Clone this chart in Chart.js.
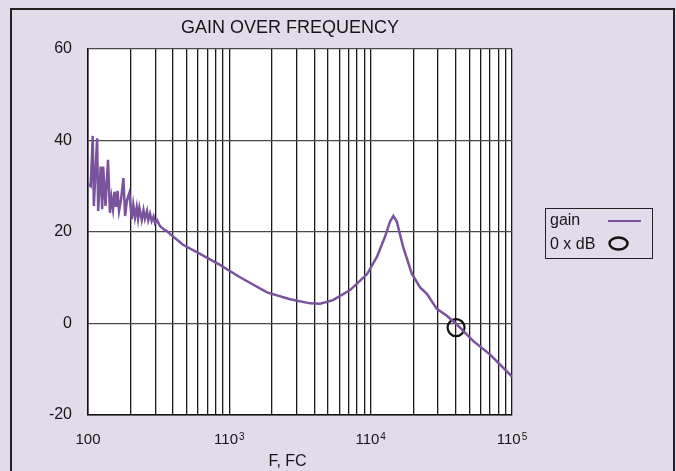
<!DOCTYPE html>
<html lang="en">
<head>
    <meta charset="UTF-8">
    <title>Gain over frequency</title>
    <script src="https://cdn.jsdelivr.net/npm/chart.js"></script>
    <style>
        body { margin: 0; background: #e2dcea; }
        canvas { display: block; }
    </style>
</head>
<body>
    <canvas id="grafico" width="676" height="471"></canvas>

<script>
    // frequencia (Hz) e ganho (dB)
    const freqHz = [
        100, 104.5, 108, 110, 116, 118, 123, 126, 128, 133, 138.5, 143, 146.6, 150.3, 154,
        157.8, 161.8, 165.8, 171.2, 178, 183, 188.8, 196, 204, 209, 215, 221, 226, 231,
        240, 247, 253, 261.5, 267, 274.7, 282, 290.8, 298, 307.8, 323, 336.7, 351, 365.3,
        380, 400, 470, 620, 859, 1190, 1848, 2690, 3726, 4385, 5420, 7150, 9430, 11090,
        12640, 13720, 14480, 15300, 16950, 19540, 22380, 24960, 29380, 34560, 40650,
        53060, 69980, 100000
    ];
    const gainDb = [
        30.5, 30, 41, 25.7, 40.5, 24.6, 34.3, 25, 34.3, 25.7, 35.8, 24.2, 27.5, 25, 28.8,
        25.5, 29, 24.6, 27, 31.8, 23.5, 27, 28.5, 22.8, 26, 23.2, 25.4, 22.9, 25.3,
        22.6, 24.8, 22.9, 24.6, 22.6, 24, 22.4, 23.4, 21.9, 22.6, 21.3, 20.8, 20.4, 20.1,
        19.6, 19.0, 17.2, 15.2, 12.8, 10.1, 6.8, 5.3, 4.4, 4.3, 5.1, 7.3, 10.8, 14.6,
        19.0, 22.3, 23.5, 22.3, 16.8, 10.9, 7.9, 6.5, 3.2, 1.7, -0.2,
        -3.8, -6.8, -11.6
    ];

    // ponto marcado (0 x dB)
    const zeroFreq = [40200];
    const zeroGain = [-0.9];

    // linhas verticais: 1..9 de cada decada
    const xGridValues = [
        100, 200, 300, 400, 500, 600, 700, 800, 900,
        1000, 2000, 3000, 4000, 5000, 6000, 7000, 8000, 9000,
        10000, 20000, 30000, 40000, 50000, 60000, 70000, 80000, 90000,
        100000
    ];
    // rotulos do eixo x (estilo "1·10^n")
    const xLabelValues = [100, 1000, 10000, 100000];
    const xLabelBase = ['100', '110', '110', '110'];
    const xLabelExp = ['', '3', '4', '5'];
    const yTicks = [-20, 0, 20, 40, 60];

    const titulo = 'GAIN OVER FREQUENCY';
    const tituloX = 'F, FC';
    const legendaNomes = ['gain', '0 x dB'];

    const corLinha = '#7a529e';
    const fonte = '"Liberation Sans", Arial, sans-serif';

    const fundo = {
        id: 'fundo',
        beforeDraw(chart) {
            const ctx = chart.ctx;
            const a = chart.chartArea;
            ctx.save();
            ctx.fillStyle = '#e2dcea';
            ctx.fillRect(0, 0, chart.width, chart.height);
            ctx.strokeStyle = '#222';
            ctx.lineWidth = 2;
            ctx.strokeRect(11, 9, 663, 480);
            ctx.fillStyle = '#fff';
            ctx.fillRect(a.left, a.top, a.right - a.left, a.bottom - a.top);
            ctx.restore();
        },
        afterDraw(chart) {
            const ctx = chart.ctx;
            const sx = chart.scales.x;
            ctx.save();
            ctx.fillStyle = '#151515';
            ctx.textBaseline = 'alphabetic';

            // rotulos do eixo x com expoente
            xLabelValues.forEach((v, i) => {
                const px = sx.getPixelForValue(v);
                ctx.font = '15px ' + fonte;
                const wb = ctx.measureText(xLabelBase[i]).width;
                ctx.font = '10px ' + fonte;
                const we = xLabelExp[i] ? ctx.measureText(xLabelExp[i]).width + 1 : 0;
                const x0 = px - (wb + we) / 2;
                ctx.textAlign = 'left';
                ctx.font = '15px ' + fonte;
                ctx.fillText(xLabelBase[i], x0, 444);
                if (xLabelExp[i]) {
                    ctx.font = '10px ' + fonte;
                    ctx.fillText(xLabelExp[i], x0 + wb + 1, 440);
                }
            });

            ctx.textAlign = 'center';
            ctx.font = '18px ' + fonte;
            ctx.fillText(titulo, 290, 33);
            ctx.font = '16px ' + fonte;
            ctx.fillText(tituloX, 287.5, 466);

            // legenda
            ctx.strokeStyle = '#222';
            ctx.lineWidth = 1;
            ctx.strokeRect(545.5, 208.5, 107, 50);
            ctx.textAlign = 'left';
            ctx.font = '16px ' + fonte;
            ctx.fillText(legendaNomes[0], 550, 225);
            ctx.fillText(legendaNomes[1], 550, 249);
            ctx.strokeStyle = corLinha;
            ctx.lineWidth = 2;
            ctx.beginPath();
            ctx.moveTo(608, 221);
            ctx.lineTo(641, 221);
            ctx.stroke();
            ctx.strokeStyle = '#111';
            ctx.lineWidth = 2.5;
            ctx.beginPath();
            ctx.ellipse(618.5, 243.5, 9, 6, 0, 0, Math.PI * 2);
            ctx.stroke();
            ctx.restore();
        }
    };

    const pontos = freqHz.map((f, i) => ({ x: f, y: gainDb[i] }));
    const pontoZero = zeroFreq.map((f, i) => ({ x: f, y: zeroGain[i] }));

    const config = {
        type: 'line',
        data: {
            datasets: [
                {
                    label: legendaNomes[0],
                    data: pontos,
                    borderColor: corLinha,
                    borderWidth: 2.5,
                    pointRadius: 0,
                    tension: 0
                },
                {
                    label: legendaNomes[1],
                    data: pontoZero,
                    showLine: false,
                    pointRadius: 8.5,
                    pointBorderWidth: 2.2,
                    pointBorderColor: '#111',
                    pointBackgroundColor: 'rgba(0,0,0,0)'
                }
            ]
        },
        options: {
            responsive: false,
            animation: false,
            layout: { padding: { top: 49, right: 164, left: 0, bottom: 0 } },
            plugins: {
                legend: { display: false },
                tooltip: { enabled: false }
            },
            scales: {
                x: {
                    type: 'logarithmic',
                    min: 100,
                    max: 100000,
                    afterBuildTicks: (scale) => {
                        scale.ticks = xGridValues.map(v => ({ value: v }));
                    },
                    afterFit: (scale) => { scale.height = 56; },
                    ticks: {
                        autoSkip: false,
                        maxRotation: 0,
                        padding: 17,
                        font: { family: fonte, size: 15 },
                        callback: () => ''   // desenhados no plugin (expoente)
                    },
                    grid: { color: '#1a1a1a', lineWidth: 1.3, drawTicks: false },
                    border: { color: '#111', width: 1.5 }
                },
                y: {
                    min: -20,
                    max: 60,
                    afterBuildTicks: (scale) => {
                        scale.ticks = yTicks.map(v => ({ value: v }));
                    },
                    afterFit: (scale) => { scale.width = 88; },
                    ticks: {
                        padding: 16,
                        color: '#151515',
                        font: { family: fonte, size: 16 }
                    },
                    grid: { color: '#4a4a4a', lineWidth: 1.3, drawTicks: false },
                    border: { color: '#111', width: 1.5 }
                }
            }
        },
        plugins: [fundo]
    };

    const grafico = new Chart(document.getElementById('grafico'), config);
</script>
</body>
</html>
